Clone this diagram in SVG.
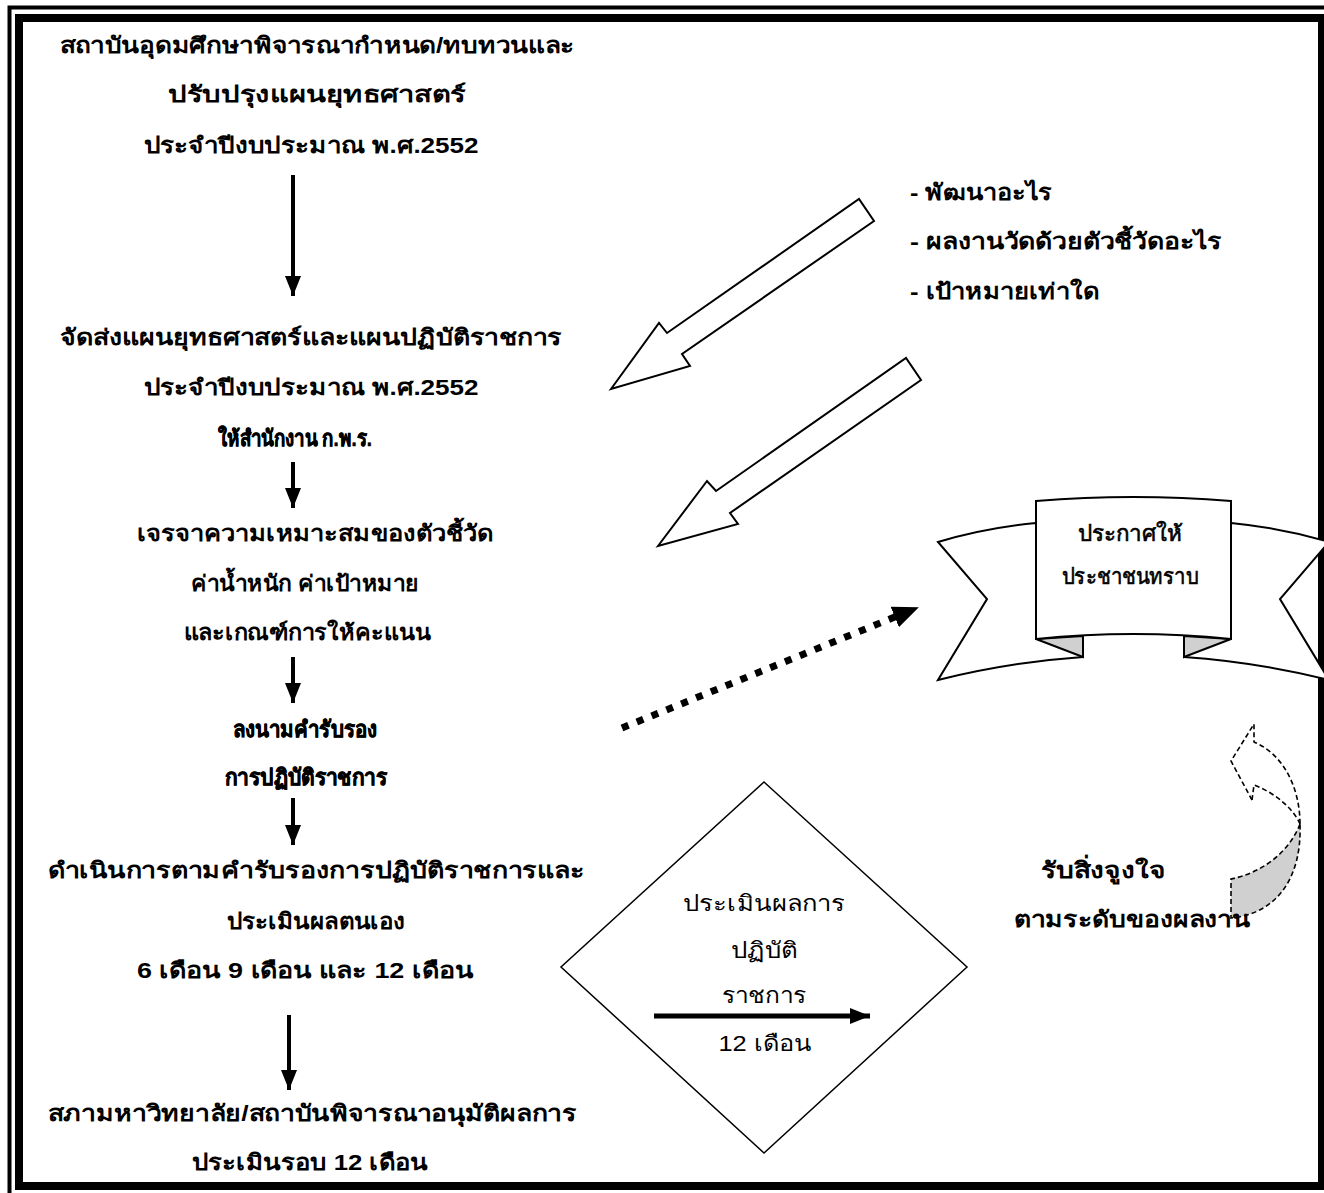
<svg xmlns="http://www.w3.org/2000/svg" width="1324" height="1193" viewBox="0 0 1324 1193">
<style>
.t{font-family:'Liberation Sans',sans-serif;font-size:22px;font-weight:bold;fill:#000}
.c{text-anchor:middle}
.r{font-weight:normal}
.th{stroke:#000;stroke-width:0.6}
.ln{stroke:#000;stroke-width:4;fill:none}
.hol{fill:#fff;stroke:#000;stroke-width:2;stroke-linejoin:miter}
.rib{fill:#fff;stroke:#000;stroke-width:2;stroke-linejoin:miter}
.gry{fill:#d0d0d0;stroke:#000;stroke-width:2}
.dsh{stroke:#000;stroke-width:1.6;stroke-dasharray:5 3;fill:none}
.dshf{stroke:#000;stroke-width:1.6;stroke-dasharray:5 3;fill:#d0d0d0}
</style>
<defs>
<marker id="ah" markerUnits="userSpaceOnUse" markerWidth="20" markerHeight="20" viewBox="0 0 20 20" refX="20" refY="10" orient="auto">
<path d="M0,2 L20,10 L0,18 Z" fill="#000"/>
</marker>
<marker id="ah2" markerUnits="userSpaceOnUse" markerWidth="26" markerHeight="24" viewBox="0 0 26 24" refX="24" refY="12" orient="auto">
<path d="M0,1 L26,12 L0,23 Z" fill="#000"/>
</marker>
</defs>
<rect width="1324" height="1193" fill="#fff"/>
<g id="border">
<rect x="9.5" y="7.5" width="1330" height="1200" fill="none" stroke="#000" stroke-width="4"/>
<rect x="19" y="18" width="1303" height="1168" fill="none" stroke="#000" stroke-width="8"/>
</g>
<g id="connectors">
<line class="ln" x1="293" y1="175" x2="293" y2="296" marker-end="url(#ah)"/>
<line class="ln" x1="293" y1="462" x2="293" y2="508" marker-end="url(#ah)"/>
<line class="ln" x1="293" y1="657" x2="293" y2="703" marker-end="url(#ah)"/>
<line class="ln" x1="293" y1="798" x2="293" y2="845" marker-end="url(#ah)"/>
<line class="ln" x1="289" y1="1015" x2="289" y2="1090" marker-end="url(#ah)"/>
<line x1="622" y1="728" x2="917" y2="608" stroke="#000" stroke-width="7" stroke-dasharray="7 9" marker-end="url(#ah2)"/>
<polygon class="hol" points="611,389 659,323 667,333 859,199 874,221 682,354 690,366"/>
<polygon class="hol" points="658,546 707,481 716,491 906,358 921,380 730,513 738,524"/>
<line x1="654" y1="1016" x2="870" y2="1016" stroke="#000" stroke-width="5" marker-end="url(#ah)"/>
</g>
<g id="n1"><text class="t c" x="317" y="53" textLength="515" lengthAdjust="spacingAndGlyphs">สถาบันอุดมศึกษาพิจารณากำหนด/ทบทวนและ</text>
<text class="t c" x="317" y="102" textLength="298" lengthAdjust="spacingAndGlyphs">ปรับปรุงแผนยุทธศาสตร์</text>
<text class="t c" x="311" y="153" textLength="335" lengthAdjust="spacingAndGlyphs">ประจำปีงบประมาณ พ.ศ.2552</text></g>
<g id="n2"><text class="t c" x="311" y="345" textLength="502" lengthAdjust="spacingAndGlyphs">จัดส่งแผนยุทธศาสตร์และแผนปฏิบัติราชการ</text>
<text class="t c" x="311" y="395" textLength="335" lengthAdjust="spacingAndGlyphs">ประจำปีงบประมาณ พ.ศ.2552</text>
<text class="t c th" x="295" y="446" textLength="154" lengthAdjust="spacingAndGlyphs">ให้สำนักงาน ก.พ.ร.</text></g>
<g id="n3"><text class="t c" x="315" y="541" textLength="357" lengthAdjust="spacingAndGlyphs">เจรจาความเหมาะสมของตัวชี้วัด</text>
<text class="t c" x="305" y="591" textLength="228" lengthAdjust="spacingAndGlyphs">ค่าน้ำหนัก ค่าเป้าหมาย</text>
<text class="t c" x="307" y="640" textLength="247" lengthAdjust="spacingAndGlyphs">และเกณฑ์การให้คะแนน</text></g>
<g id="n4"><text class="t c th" x="305" y="737" textLength="144" lengthAdjust="spacingAndGlyphs">ลงนามคำรับรอง</text>
<text class="t c th" x="306" y="785" textLength="162" lengthAdjust="spacingAndGlyphs">การปฏิบัติราชการ</text></g>
<g id="n5"><text class="t c" x="316" y="878" textLength="537" lengthAdjust="spacingAndGlyphs">ดำเนินการตามคำรับรองการปฏิบัติราชการและ</text>
<text class="t c" x="316" y="929" textLength="179" lengthAdjust="spacingAndGlyphs">ประเมินผลตนเอง</text>
<text class="t c" x="305" y="978" textLength="336" lengthAdjust="spacingAndGlyphs">6 เดือน  9 เดือน และ 12 เดือน</text></g>
<g id="n6"><text class="t c" x="312" y="1121" textLength="529" lengthAdjust="spacingAndGlyphs">สภามหาวิทยาลัย/สถาบันพิจารณาอนุมัติผลการ</text>
<text class="t c" x="310" y="1170" textLength="236" lengthAdjust="spacingAndGlyphs">ประเมินรอบ 12 เดือน</text></g>
<g id="n7"><text class="t" x="910" y="200" textLength="142" lengthAdjust="spacingAndGlyphs">- พัฒนาอะไร</text>
<text class="t" x="910" y="249" textLength="312" lengthAdjust="spacingAndGlyphs">- ผลงานวัดด้วยตัวชี้วัดอะไร</text>
<text class="t" x="910" y="299" textLength="189" lengthAdjust="spacingAndGlyphs">- เป้าหมายเท่าใด</text></g>
<g id="banner">
<path class="rib" d="M1036,523 Q985,528 938,542 L987,599 L938,680 Q1010,662 1083,657 L1083,636 Z"/>
<path class="rib" d="M1231,523 Q1282,528 1329,542 L1280,599 L1329,680 Q1257,662 1184,657 L1184,636 Z"/>
<path class="gry" d="M1036,639 L1083,657 L1083,636 Z"/>
<path class="gry" d="M1231,639 L1184,657 L1184,636 Z"/>
<path class="rib" d="M1036,501 Q1133.5,493 1231,501 L1231,639 Q1133.5,629 1036,639 Z"/>
<text class="t c r th" x="1130" y="541" textLength="105" lengthAdjust="spacingAndGlyphs">ประกาศให้</text>
<text class="t c r th" x="1130" y="584" textLength="137" lengthAdjust="spacingAndGlyphs">ประชาชนทราบ</text>
</g>
<g id="curved-arrow">
<path class="dshf" d="M1300,824 C1290,850 1265,872 1231,879 L1231,918 C1275,914 1302,880 1300,824 Z"/>
<path class="dsh" d="M1252,800 L1231,761 L1254,724 L1254,742 C1285,755 1300,790 1300,824"/>
<path class="dsh" d="M1252,800 L1254,785 C1275,793 1293,808 1300,824"/>
</g>
<g id="n8"><text class="t c" x="1103" y="878" textLength="125" lengthAdjust="spacingAndGlyphs">รับสิ่งจูงใจ</text>
<text class="t c" x="1132" y="927" textLength="236" lengthAdjust="spacingAndGlyphs">ตามระดับของผลงาน</text></g>
<g id="diamond">
<polygon points="764,782 967,967 764,1153 561,967" fill="none" stroke="#000" stroke-width="1.5"/>
<text class="t c r" x="764" y="911" textLength="162" lengthAdjust="spacingAndGlyphs">ประเมินผลการ</text>
<text class="t c r" x="764" y="958" textLength="67" lengthAdjust="spacingAndGlyphs">ปฏิบัติ</text>
<text class="t c r" x="764" y="1003" textLength="85" lengthAdjust="spacingAndGlyphs">ราชการ</text>
<text class="t c r" x="765" y="1051" textLength="93" lengthAdjust="spacingAndGlyphs">12 เดือน</text>
</g>
</svg>
